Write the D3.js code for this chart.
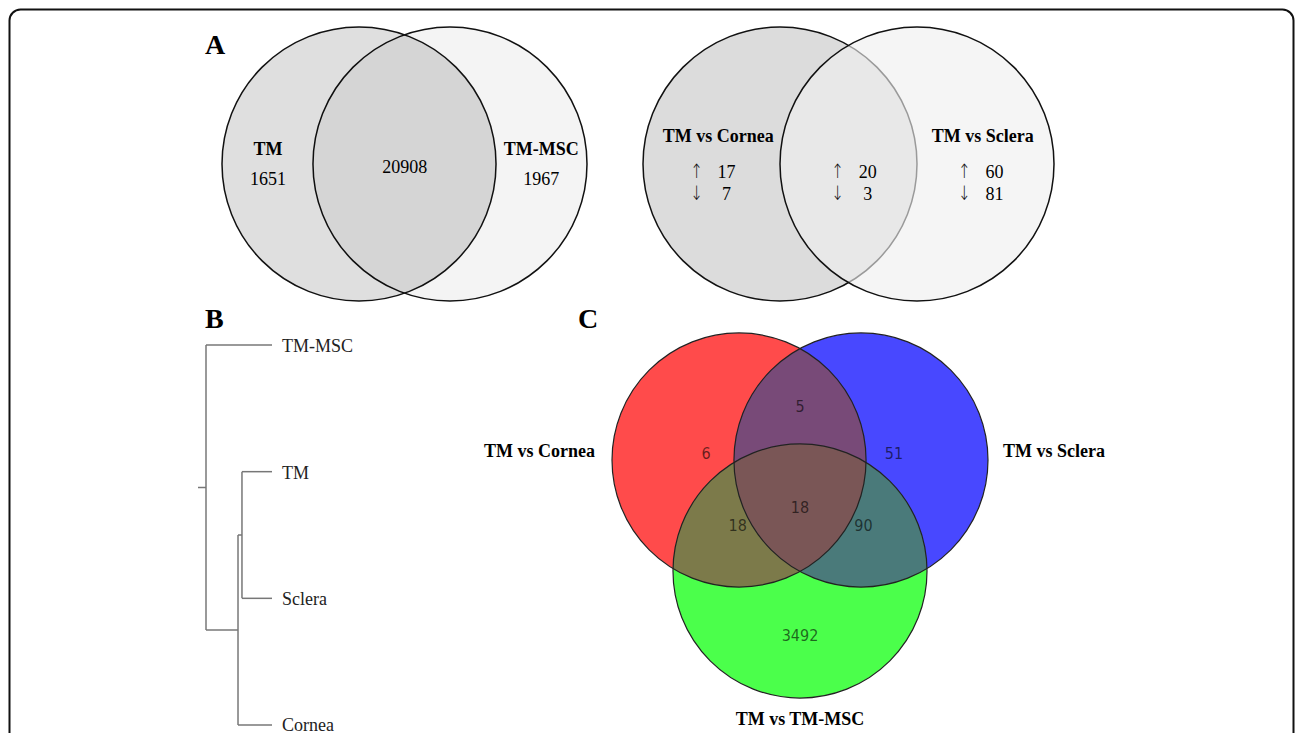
<!DOCTYPE html>
<html>
<head>
<meta charset="utf-8">
<script src="https://cdn.jsdelivr.net/npm/d3@7"></script>
<style>
  html, body { margin: 0; padding: 0; background: #fff; overflow: hidden; }
  svg { display: block; }
</style>
</head>
<body>
<svg id="fig" width="1295" height="733"></svg>
<script>
// ---- data ----
// panel A left: genes detected (only TM, shared, only TM-MSC)
const setsA1 = ['TM', 'TM-MSC']
const countsA1 = [1651, 20908, 1967]

// panel A right: DE genes up / down (only Cornea, shared, only Sclera)
const setsA2 = ['TM vs Cornea', 'TM vs Sclera']
const upA2 = [17, 20, 60]
const downA2 = [7, 3, 81]

// panel B: hierarchical clustering
const leaves = ['TM-MSC', 'TM', 'Sclera', 'Cornea']
const mergeHeights = [1.0, 0.515, 0.455]   // root, (TM,Sclera,Cornea), (TM,Sclera)

// panel C: three-way overlap
const setsC = ['TM vs Cornea', 'TM vs Sclera', 'TM vs TM-MSC']
const regionKeys = ['100', '010', '001', '110', '101', '011', '111']
const regionCounts = [6, 51, 3492, 5, 18, 90, 18]

// ---- layout (unit circle geometry, not data) ----
const serif = '"Liberation Serif", "Times New Roman", serif'
const svg = d3.select('#fig')

// outer frame
svg.append('rect')
  .attr('x', 9.5).attr('y', 9.5)
  .attr('width', 1284).attr('height', 760)
  .attr('rx', 11)
  .attr('fill', 'none')
  .attr('stroke', '#111')
  .attr('stroke-width', 2)

// panel letters
const letters = [['A', 205, 54], ['B', 205, 328], ['C', 578, 328]]
svg.selectAll('text.letter')
  .data(letters)
  .join('text')
  .attr('class', 'letter')
  .attr('x', d => d[1]).attr('y', d => d[2])
  .style('font-family', serif)
  .style('font-weight', 'bold')
  .style('font-size', '28px')
  .text(d => d[0])

// ---------- Panel A, left venn ----------
{
  const cx = [0, 0.664]
  const x = d3.scaleLinear().domain([-1, 1.664]).range([222, 587])
  const y = d3.scaleLinear().domain([-1, 1]).range([27, 301])
  const r = x(1) - x(0)
  const g = svg.append('g')

  // right circle underneath, left circle on top
  g.append('circle')
    .attr('cx', x(cx[1])).attr('cy', y(0)).attr('r', r)
    .attr('fill', '#f4f4f4')
    .attr('stroke', '#111').attr('stroke-width', 1.5)
  g.append('circle')
    .attr('cx', x(cx[0])).attr('cy', y(0)).attr('r', r)
    .attr('fill', '#000').attr('fill-opacity', 0.125)
    .attr('stroke', '#111').attr('stroke-width', 1.5)

  const regionX = [-0.664, 0.334, 1.33]
  g.selectAll('text.lab')
    .data(setsA1)
    .join('text')
    .attr('class', 'lab')
    .attr('x', (d, i) => x(regionX[i * 2]))
    .attr('y', y(-0.066))
    .attr('text-anchor', 'middle')
    .style('font-family', serif).style('font-weight', 'bold').style('font-size', '18px')
    .text(d => d)

  g.selectAll('text.num')
    .data(countsA1)
    .join('text')
    .attr('class', 'num')
    .attr('x', (d, i) => x(regionX[i]))
    .attr('y', (d, i) => y(i === 1 ? 0.066 : 0.153))
    .attr('text-anchor', 'middle')
    .style('font-family', serif).style('font-size', '18px')
    .text(d => d)
}

// ---------- Panel A, right venn ----------
{
  const cx = [0, 1.0]
  const x = d3.scaleLinear().domain([-1, 2]).range([643, 1054])
  const y = d3.scaleLinear().domain([-1, 1]).range([27, 301])
  const r = x(1) - x(0)
  const g = svg.append('g')

  g.append('circle')
    .attr('cx', x(cx[0])).attr('cy', y(0)).attr('r', r)
    .attr('fill', '#dcdcdc')
    .attr('stroke', '#111').attr('stroke-width', 1.5)
  g.append('circle')
    .attr('cx', x(cx[1])).attr('cy', y(0)).attr('r', r)
    .attr('fill', '#efefef').attr('fill-opacity', 0.62)
    .attr('stroke', '#111').attr('stroke-width', 1.5)

  const labelX = [-0.45, 1.48]
  g.selectAll('text.lab')
    .data(setsA2)
    .join('text')
    .attr('class', 'lab')
    .attr('x', (d, i) => x(labelX[i]))
    .attr('y', y(-0.16))
    .attr('text-anchor', 'middle')
    .style('font-family', serif).style('font-weight', 'bold').style('font-size', '18px')
    .text(d => d)

  const regionX = [-0.5, 0.53, 1.455]
  const rows = [
    { arrow: '\u2191', vals: upA2, yy: 0.10 },
    { arrow: '\u2193', vals: downA2, yy: 0.265 }
  ]
  rows.forEach(row => {
    // arrows: tall and thin like the original glyphs
    g.selectAll(null)
      .data(row.vals)
      .join('text')
      .attr('transform', (d, i) => `translate(${x(regionX[i] - 0.11)},${y(row.yy)}) scale(0.75,1)`)
      .attr('text-anchor', 'middle')
      .attr('fill', '#111')
      .style('font-family', '"DejaVu Sans", sans-serif').style('font-size', '20px')
      .style('font-weight', 200)
      .text(row.arrow)
    g.selectAll(null)
      .data(row.vals)
      .join('text')
      .attr('x', (d, i) => x(regionX[i] + 0.11))
      .attr('y', y(row.yy))
      .attr('text-anchor', 'middle')
      .style('font-family', serif).style('font-size', '18px')
      .text(d => d)
  })
}

// ---------- Panel B, dendrogram ----------
{
  const tree = d3.hierarchy({
    h: mergeHeights[0],
    children: [
      { name: leaves[0], h: 0 },
      {
        h: mergeHeights[1],
        children: [
          { h: mergeHeights[2], children: [{ name: leaves[1], h: 0 }, { name: leaves[2], h: 0 }] },
          { name: leaves[3], h: 0 }
        ]
      }
    ]
  })

  const x = d3.scaleLinear().domain([1, 0]).range([206, 272])
  const y = d3.scalePoint().domain(leaves).range([345, 725])

  // node y = midpoint of its first and last child
  tree.eachAfter(n => {
    n.py = n.children ? (n.children[0].py + n.children[n.children.length - 1].py) / 2 : y(n.data.name)
    n.px = x(n.data.h)
  })

  const segs = []
  tree.each(n => {
    if (!n.children) return
    const ys = n.children.map(c => c.py)
    segs.push([n.px, d3.min(ys), n.px, d3.max(ys)])
    n.children.forEach(c => segs.push([n.px, c.py, c.px, c.py]))
  })
  segs.push([tree.px - 8, tree.py, tree.px, tree.py]) // root stub

  const g = svg.append('g')
  g.selectAll('line')
    .data(segs)
    .join('line')
    .attr('x1', d => d[0]).attr('y1', d => d[1])
    .attr('x2', d => d[2]).attr('y2', d => d[3])
    .attr('stroke', '#777')
    .attr('stroke-width', 1.5)

  g.selectAll('text')
    .data(tree.leaves())
    .join('text')
    .attr('x', d => d.px + 10)
    .attr('y', d => Math.min(d.py + 7, 731))
    .style('font-family', serif).style('font-size', '18px')
    .attr('fill', '#222')
    .text(d => d.data.name)
}

// ---------- Panel C, three-way venn ----------
{
  const centers = [[-0.48, 0], [0.48, 0], [0, 0.874]]
  const x = d3.scaleLinear().domain([-1.48, 1.48]).range([612, 988])
  const y = d3.scaleLinear().domain([-1, 1.874]).range([333, 698])
  const r = x(1) - x(0)

  const regionColor = {
    '100': '#ff4b4b', '010': '#4848ff', '001': '#4bff4b',
    '110': '#784a78', '101': '#7c7a4a', '011': '#4a7a7a', '111': '#7a5656'
  }
  const labelPos = {
    '100': [-0.74, -0.055], '010': [0.74, -0.055], '001': [0, 1.38],
    '110': [0, -0.425], '101': [-0.49, 0.51], '011': [0.5, 0.51], '111': [0, 0.37]
  }

  const defs = svg.append('defs')
  centers.forEach((c, i) => {
    defs.append('clipPath').attr('id', 'clipC' + i)
      .append('circle')
      .attr('cx', x(c[0])).attr('cy', y(c[1])).attr('r', r)
  })

  const g = svg.append('g')
  // singles, then pairs, then the triple on top
  const order = regionKeys.slice().sort((a, b) =>
    d3.sum(a.split(''), Number) - d3.sum(b.split(''), Number))

  order.forEach(key => {
    const idx = key.split('').map((v, i) => v === '1' ? i : -1).filter(i => i >= 0)
    let host = g
    idx.slice(1).forEach(j => {
      host = host.append('g').attr('clip-path', `url(#clipC${j})`)
    })
    const c = centers[idx[0]]
    host.append('circle')
      .attr('cx', x(c[0])).attr('cy', y(c[1])).attr('r', r)
      .attr('fill', regionColor[key])
  })

  g.selectAll('circle.outline')
    .data(centers)
    .join('circle')
    .attr('class', 'outline')
    .attr('cx', d => x(d[0])).attr('cy', d => y(d[1])).attr('r', r)
    .attr('fill', 'none')
    .attr('stroke', '#222')
    .attr('stroke-width', 1.2)

  g.selectAll('text.cnt')
    .data(regionKeys.map((k, i) => ({ k, v: regionCounts[i] })))
    .join('text')
    .attr('class', 'cnt')
    .attr('x', d => x(labelPos[d.k][0]))
    .attr('y', d => y(labelPos[d.k][1]) + 6)
    .attr('text-anchor', 'middle')
    .style('font-family', '"DejaVu Sans Condensed", "DejaVu Sans", sans-serif')
    .style('font-size', '16px')
    .attr('fill', '#000').attr('fill-opacity', 0.6)
    .text(d => d.v)

  const setLabelPos = [[-2.05, -0.024], [2.0, -0.024], [0, 2.09]]
  g.selectAll('text.set')
    .data(setsC)
    .join('text')
    .attr('class', 'set')
    .attr('x', (d, i) => x(setLabelPos[i][0]))
    .attr('y', (d, i) => y(setLabelPos[i][1]))
    .attr('text-anchor', 'middle')
    .style('font-family', serif).style('font-weight', 'bold').style('font-size', '18px')
    .text(d => d)
}
</script>
</body>
</html>
